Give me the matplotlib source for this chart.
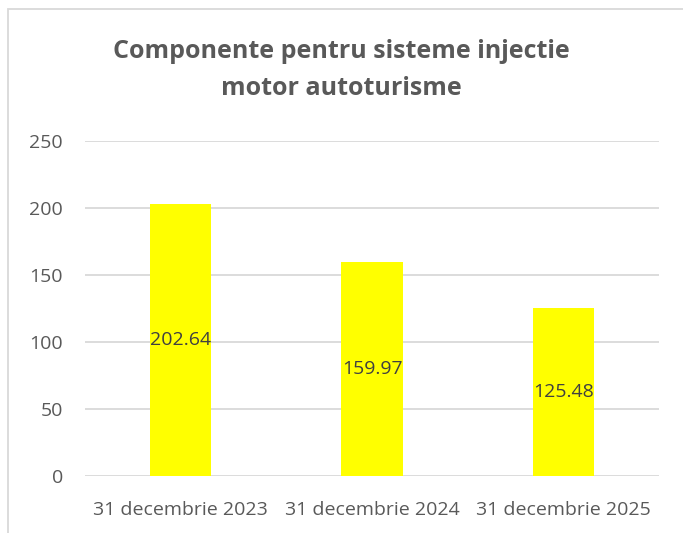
import matplotlib
matplotlib.use('Agg')
import matplotlib.pyplot as plt
from matplotlib.patches import Rectangle

# date
categorii = ['31 decembrie 2023', '31 decembrie 2024', '31 decembrie 2025']
valori = [202.64, 159.97, 125.48]
titlu = 'Componente pentru sisteme injectie\nmotor autoturisme'
yticks = [0, 50, 100, 150, 200, 250]

plt.rcParams['font.family'] = ['Open Sans', 'DejaVu Sans']
text_color = '#595959'

fig = plt.figure(figsize=(6.83, 5.33), dpi=100)
ax = fig.add_axes([0.1245, 0.107, 0.8405, 0.6285])

# chenar exterior (taiat la dreapta si jos)
fig.patches.append(Rectangle((8 / 683, -0.1), 1.2, 1 - 9 / 533 + 0.1,
                             transform=fig.transFigure, fill=False,
                             edgecolor='#d9d9d9', linewidth=1.3))

x = range(len(categorii))
bars = ax.bar(x, valori, width=0.32, color='#ffff00', zorder=2)
for b, v in zip(bars, valori):
    ax.text(b.get_x() + b.get_width() / 2, v / 2, f'{v:.2f}',
            ha='center', va='center', fontsize=14, color='#404040', zorder=3)

ax.set_xlim(-0.5, 2.5)
ax.set_ylim(0, 250)
ax.set_yticks(yticks)
ax.set_xticks(list(x))
ax.set_xticklabels(categorii)
ax.yaxis.grid(True, color='#d9d9d9', linewidth=1.3, zorder=0)
ax.set_axisbelow(True)
for s in ax.spines.values():
    s.set_visible(False)
ax.tick_params(axis='both', length=0, labelsize=14, labelcolor=text_color)
ax.tick_params(axis='x', pad=18)
ax.tick_params(axis='y', pad=16)

fig.text(0.5, 1 - 70 / 533, titlu, ha='center', va='center', fontsize=18,
         fontweight='bold', color=text_color, linespacing=1.65)

fig.savefig('out.png', dpi=100)
